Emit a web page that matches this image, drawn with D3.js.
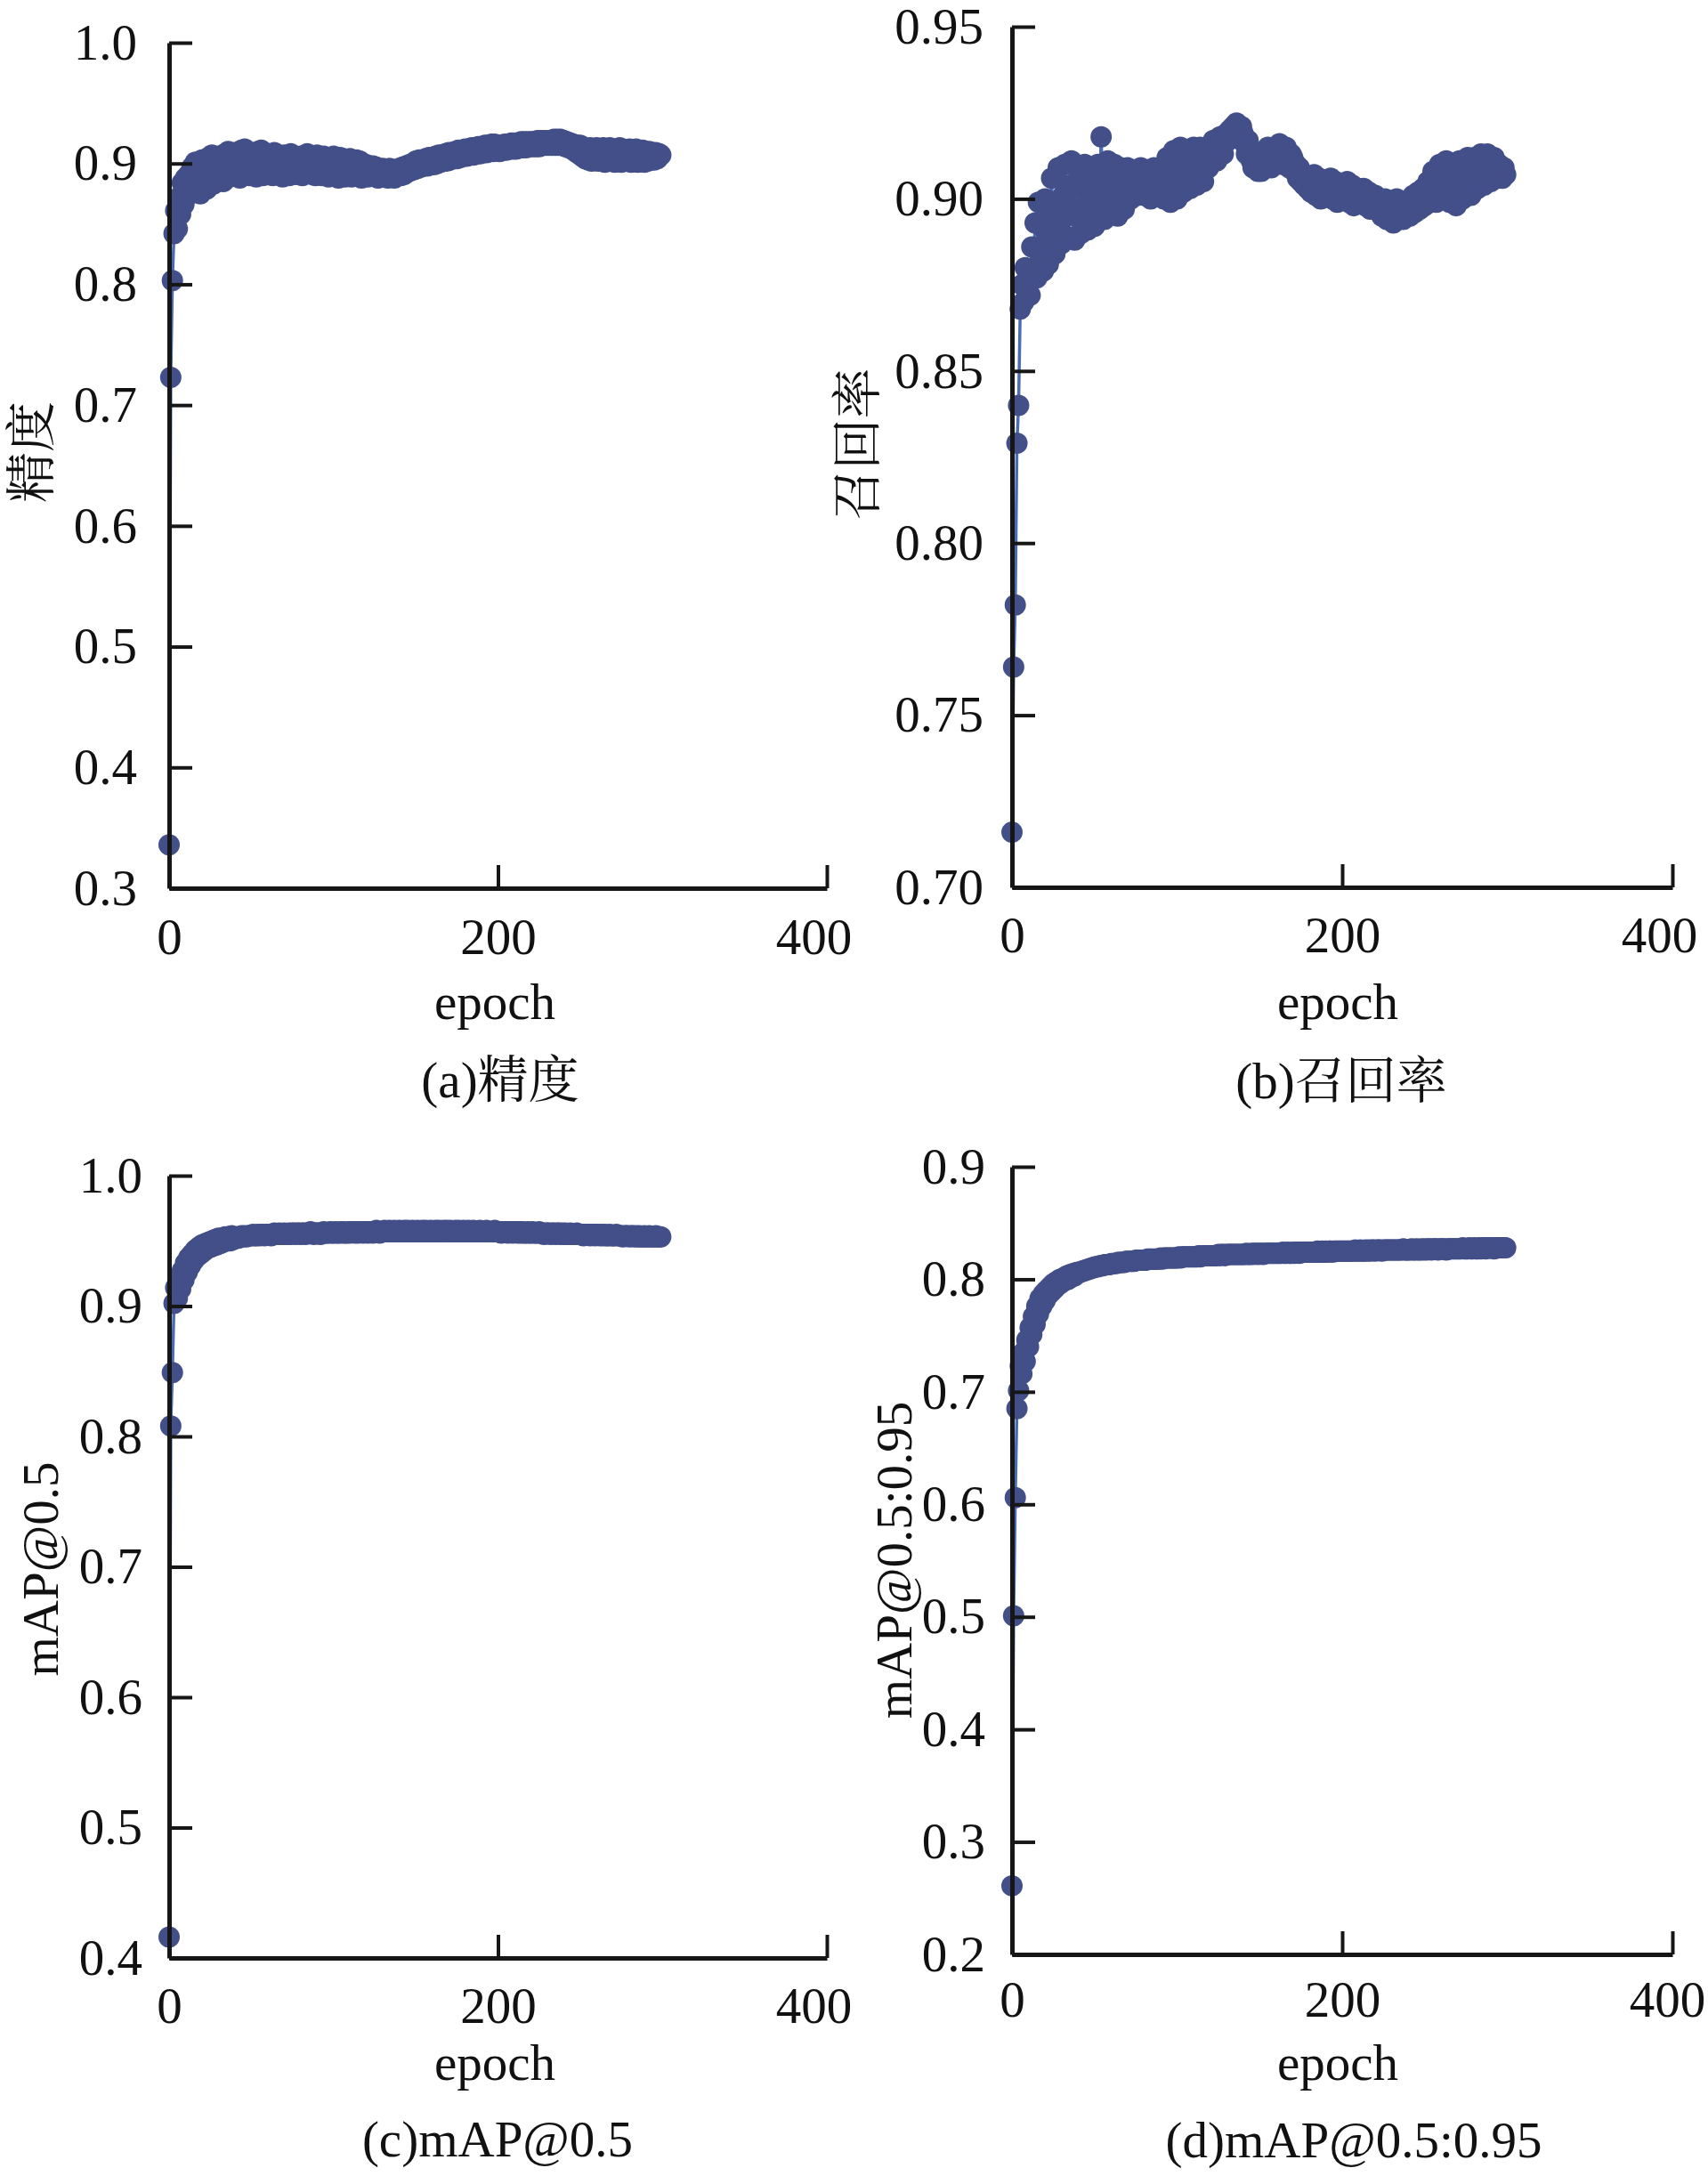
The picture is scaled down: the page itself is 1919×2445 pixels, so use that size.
<!DOCTYPE html>
<html><head><meta charset="utf-8">
<script src="https://cdn.jsdelivr.net/npm/d3@7"></script>
<style>html,body{margin:0;padding:0;background:#fff}</style>
</head><body>
<svg id="chart" width="1919" height="2445"></svg>
<script>
// ---------- data (one value per epoch 0..299) ----------
const precision = [
0.336,0.723,0.803,0.842,0.861,0.846,0.872,0.858,0.884,0.866,
0.888,0.873,0.891,0.876,0.897,0.879,0.901,0.882,0.894,0.875,
0.903,0.884,0.898,0.879,0.905,0.887,0.907,0.883,0.899,0.889,
0.906,0.888,0.902,0.885,0.908,0.892,0.910,0.889,0.903,0.891,
0.909,0.890,0.905,0.888,0.911,0.894,0.912,0.891,0.904,0.890,
0.909,0.892,0.906,0.889,0.910,0.895,0.911,0.890,0.903,0.893,
0.908,0.891,0.904,0.890,0.909,0.894,0.907,0.892,0.902,0.889,
0.907,0.892,0.903,0.890,0.908,0.895,0.906,0.891,0.901,0.893,
0.906,0.890,0.904,0.892,0.908,0.894,0.905,0.891,0.902,0.890,
0.907,0.893,0.903,0.890,0.906,0.892,0.905,0.889,0.901,0.891,
0.906,0.890,0.903,0.888,0.905,0.891,0.904,0.889,0.900,0.892,
0.904,0.889,0.901,0.890,0.903,0.891,0.902,0.888,0.899,0.890,
0.899,0.889,0.897,0.891,0.898,0.890,0.897,0.888,0.895,0.890,
0.896,0.889,0.895,0.888,0.896,0.889,0.895,0.888,0.894,0.890,
0.896,0.890,0.897,0.891,0.898,0.893,0.899,0.894,0.900,0.895,
0.902,0.896,0.903,0.897,0.903,0.898,0.904,0.898,0.905,0.899,
0.905,0.899,0.906,0.900,0.907,0.901,0.907,0.902,0.908,0.902,
0.909,0.903,0.909,0.904,0.910,0.904,0.911,0.905,0.911,0.906,
0.912,0.906,0.912,0.907,0.913,0.907,0.913,0.908,0.914,0.908,
0.914,0.909,0.915,0.909,0.915,0.910,0.916,0.910,0.916,0.911,
0.915,0.910,0.915,0.911,0.916,0.911,0.916,0.912,0.917,0.912,
0.917,0.912,0.917,0.913,0.918,0.913,0.918,0.913,0.918,0.914,
0.918,0.914,0.918,0.914,0.919,0.914,0.919,0.915,0.919,0.915,
0.919,0.915,0.919,0.915,0.920,0.915,0.920,0.915,0.920,0.915,
0.919,0.914,0.918,0.913,0.917,0.912,0.916,0.910,0.915,0.908,
0.915,0.906,0.913,0.904,0.912,0.903,0.913,0.902,0.912,0.903,
0.913,0.902,0.912,0.903,0.913,0.901,0.912,0.902,0.913,0.903,
0.912,0.901,0.911,0.902,0.913,0.901,0.912,0.902,0.911,0.903,
0.912,0.901,0.911,0.902,0.912,0.901,0.910,0.902,0.911,0.901,
0.910,0.902,0.910,0.903,0.909,0.903,0.909,0.904,0.908,0.907
];
const recall = [
0.716,0.764,0.782,0.829,0.840,0.868,0.875,0.870,0.880,0.874,
0.878,0.872,0.886,0.880,0.893,0.877,0.899,0.885,0.892,0.879,
0.900,0.888,0.881,0.895,0.906,0.890,0.884,0.899,0.909,0.893,
0.887,0.901,0.910,0.895,0.889,0.904,0.911,0.897,0.888,0.903,
0.909,0.894,0.890,0.905,0.910,0.898,0.891,0.903,0.908,0.896,
0.892,0.904,0.910,0.899,0.918,0.903,0.894,0.906,0.911,0.899,
0.896,0.904,0.910,0.901,0.895,0.905,0.909,0.900,0.897,0.906,
0.909,0.903,0.900,0.905,0.908,0.902,0.901,0.906,0.909,0.904,
0.901,0.905,0.908,0.903,0.900,0.906,0.909,0.904,0.902,0.906,
0.909,0.904,0.900,0.907,0.912,0.905,0.899,0.908,0.914,0.906,
0.900,0.908,0.915,0.907,0.902,0.910,0.914,0.906,0.903,0.911,
0.915,0.909,0.904,0.911,0.915,0.908,0.905,0.912,0.914,0.909,
0.910,0.914,0.917,0.912,0.911,0.916,0.918,0.914,0.913,0.917,
0.919,0.917,0.920,0.918,0.921,0.919,0.922,0.920,0.918,0.921,
0.919,0.916,0.913,0.917,0.915,0.911,0.909,0.913,0.910,0.908,
0.911,0.908,0.913,0.910,0.912,0.915,0.911,0.909,0.914,0.912,
0.910,0.913,0.916,0.912,0.910,0.914,0.915,0.911,0.909,0.913,
0.912,0.908,0.910,0.906,0.909,0.905,0.907,0.904,0.906,0.903,
0.906,0.902,0.904,0.907,0.901,0.903,0.906,0.900,0.904,0.902,
0.905,0.901,0.903,0.906,0.900,0.902,0.905,0.899,0.903,0.901,
0.904,0.900,0.902,0.905,0.899,0.901,0.904,0.898,0.902,0.900,
0.903,0.899,0.901,0.903,0.898,0.900,0.902,0.897,0.900,0.899,
0.901,0.897,0.899,0.900,0.895,0.898,0.900,0.894,0.897,0.899,
0.896,0.893,0.898,0.900,0.894,0.897,0.899,0.894,0.896,0.899,
0.897,0.895,0.899,0.901,0.896,0.898,0.902,0.897,0.900,0.903,
0.898,0.901,0.905,0.900,0.903,0.908,0.902,0.899,0.906,0.910,
0.904,0.900,0.907,0.911,0.903,0.899,0.906,0.910,0.902,0.898,
0.905,0.911,0.907,0.900,0.904,0.910,0.912,0.903,0.901,0.908,
0.912,0.906,0.903,0.909,0.913,0.907,0.904,0.910,0.913,0.908,
0.905,0.909,0.912,0.907,0.906,0.910,0.908,0.906,0.909,0.907
];
const map50 = [
0.416,0.808,0.849,0.902,0.914,0.906,0.921,0.913,0.927,0.920,
0.933,0.926,0.937,0.931,0.940,0.935,0.943,0.938,0.945,0.940,
0.947,0.942,0.948,0.944,0.949,0.945,0.950,0.946,0.951,0.947,
0.952,0.948,0.952,0.949,0.953,0.950,0.953,0.950,0.954,0.951,
0.953,0.953,0.952,0.953,0.954,0.953,0.954,0.953,0.954,0.954,
0.954,0.955,0.954,0.954,0.955,0.954,0.955,0.955,0.954,0.955,
0.955,0.955,0.954,0.955,0.956,0.955,0.955,0.956,0.955,0.955,
0.956,0.955,0.955,0.956,0.955,0.956,0.956,0.955,0.956,0.956,
0.955,0.956,0.956,0.955,0.956,0.956,0.957,0.956,0.955,0.956,
0.956,0.956,0.955,0.956,0.957,0.956,0.956,0.956,0.957,0.956,
0.956,0.957,0.956,0.956,0.957,0.956,0.957,0.956,0.956,0.957,
0.956,0.957,0.957,0.956,0.957,0.956,0.957,0.957,0.956,0.957,
0.957,0.956,0.957,0.957,0.956,0.957,0.958,0.957,0.956,0.957,
0.957,0.958,0.957,0.957,0.958,0.957,0.957,0.958,0.957,0.957,
0.958,0.957,0.957,0.958,0.957,0.958,0.957,0.957,0.958,0.957,
0.957,0.958,0.957,0.957,0.958,0.957,0.958,0.957,0.957,0.958,
0.957,0.957,0.958,0.957,0.958,0.957,0.957,0.958,0.957,0.958,
0.957,0.958,0.957,0.957,0.958,0.957,0.958,0.957,0.957,0.958,
0.957,0.957,0.958,0.957,0.957,0.958,0.957,0.957,0.957,0.958,
0.957,0.957,0.957,0.958,0.957,0.957,0.957,0.957,0.958,0.957,
0.957,0.957,0.956,0.957,0.957,0.957,0.956,0.957,0.957,0.956,
0.957,0.957,0.956,0.957,0.956,0.957,0.956,0.956,0.957,0.956,
0.956,0.957,0.956,0.956,0.956,0.957,0.956,0.956,0.955,0.956,
0.956,0.956,0.955,0.956,0.956,0.955,0.956,0.956,0.955,0.956,
0.955,0.956,0.955,0.955,0.956,0.955,0.955,0.955,0.956,0.955,
0.955,0.955,0.954,0.955,0.955,0.955,0.954,0.955,0.955,0.954,
0.955,0.955,0.954,0.955,0.954,0.955,0.954,0.954,0.955,0.954,
0.954,0.954,0.955,0.954,0.954,0.954,0.953,0.954,0.954,0.954,
0.953,0.954,0.954,0.953,0.954,0.953,0.954,0.953,0.953,0.954,
0.953,0.953,0.954,0.953,0.953,0.953,0.954,0.953,0.953,0.953
];
const map5095 = [
0.261,0.501,0.606,0.685,0.701,0.723,0.716,0.735,0.727,0.746,
0.740,0.757,0.751,0.767,0.760,0.776,0.769,0.783,0.776,0.787,
0.781,0.790,0.786,0.793,0.789,0.796,0.792,0.798,0.795,0.800,
0.797,0.801,0.799,0.803,0.800,0.804,0.802,0.805,0.803,0.806,
0.806,0.806,0.807,0.807,0.808,0.808,0.809,0.809,0.810,0.810,
0.811,0.811,0.811,0.812,0.812,0.812,0.813,0.813,0.813,0.813,
0.814,0.814,0.814,0.814,0.815,0.815,0.815,0.815,0.815,0.816,
0.816,0.816,0.816,0.816,0.816,0.817,0.817,0.817,0.817,0.817,
0.817,0.817,0.818,0.818,0.818,0.818,0.818,0.818,0.818,0.818,
0.819,0.818,0.819,0.819,0.819,0.819,0.819,0.819,0.819,0.819,
0.819,0.820,0.819,0.820,0.820,0.820,0.820,0.820,0.820,0.820,
0.820,0.820,0.820,0.821,0.820,0.821,0.821,0.821,0.821,0.821,
0.821,0.821,0.821,0.821,0.821,0.822,0.821,0.822,0.822,0.821,
0.822,0.822,0.822,0.822,0.822,0.822,0.822,0.822,0.822,0.822,
0.822,0.822,0.823,0.822,0.822,0.823,0.822,0.823,0.823,0.822,
0.823,0.823,0.822,0.823,0.823,0.823,0.823,0.823,0.823,0.823,
0.823,0.823,0.823,0.823,0.824,0.823,0.823,0.824,0.823,0.823,
0.824,0.823,0.824,0.824,0.823,0.824,0.824,0.824,0.824,0.824,
0.824,0.824,0.824,0.824,0.824,0.825,0.824,0.824,0.825,0.824,
0.825,0.824,0.825,0.825,0.824,0.825,0.825,0.825,0.825,0.825,
0.825,0.825,0.825,0.825,0.825,0.825,0.825,0.825,0.826,0.825,
0.825,0.826,0.825,0.825,0.826,0.825,0.826,0.825,0.826,0.826,
0.825,0.826,0.826,0.826,0.825,0.826,0.826,0.826,0.826,0.826,
0.826,0.826,0.826,0.826,0.826,0.826,0.826,0.827,0.826,0.826,
0.826,0.826,0.827,0.826,0.826,0.827,0.826,0.826,0.827,0.826,
0.827,0.826,0.827,0.827,0.826,0.827,0.827,0.827,0.826,0.827,
0.827,0.827,0.827,0.826,0.827,0.827,0.827,0.827,0.827,0.827,
0.827,0.827,0.827,0.828,0.827,0.827,0.827,0.828,0.827,0.827,
0.828,0.827,0.827,0.828,0.827,0.828,0.828,0.827,0.828,0.828,
0.828,0.828,0.827,0.828,0.828,0.828,0.828,0.828,0.828,0.828
];

const xTicks = [0, 200, 400];
const yTicksA = [0.3, 0.4, 0.5, 0.6, 0.7, 0.8, 0.9, 1.0];
const yTicksB = [0.70, 0.75, 0.80, 0.85, 0.90, 0.95];
const yTicksC = [0.4, 0.5, 0.6, 0.7, 0.8, 0.9, 1.0];
const yTicksD = [0.2, 0.3, 0.4, 0.5, 0.6, 0.7, 0.8, 0.9];
const xLabel = "epoch";
const yLabels = ["精度", "召回率", "mAP@0.5", "mAP@0.5:0.95"];
const captions = ["(a)精度", "(b)召回率", "(c)mAP@0.5", "(d)mAP@0.5:0.95"];

// ---------- layout / style ----------
const FONT = "'Liberation Serif','Times New Roman','Noto Serif CJK SC','Noto Sans CJK SC',serif";
const FS = 57;
const AXIS = "#161616";
const MARK = "#434f88";
const LINE = "#4a6cb5";

const panels = [
  {data: precision, yDomain: [0.3, 1.0], yTicks: yTicksA, fmt: ".1f",
   x0: 190, x1: 929, yTop: 48, yBot: 998, yPad: 36, xPad: 34, lastDx: -15,
   yl: {x: 35, y: 508, cjk: true}, ex: 556, ey: 1145, cx: 562, cy: 1233},
  {data: recall, yDomain: [0.70, 0.95], yTicks: yTicksB, fmt: ".2f",
   x0: 1137, x1: 1879, yTop: 30, yBot: 997, yPad: 32, xPad: 33, lastDx: -15,
   yl: {x: 963, y: 499, cjk: true}, ex: 1503, ey: 1145, cx: 1507, cy: 1234},
  {data: map50, yDomain: [0.4, 1.0], yTicks: yTicksC, fmt: ".1f",
   x0: 190, x1: 929, yTop: 1321, yBot: 2200, yPad: 30, xPad: 33, lastDx: -15,
   yl: {x: 65, y: 1763, cjk: false}, ex: 556, ey: 2337, cx: 559, cy: 2423},
  {data: map5095, yDomain: [0.2, 0.9], yTicks: yTicksD, fmt: ".1f",
   x0: 1137, x1: 1879, yTop: 1311, yBot: 2196, yPad: 30, xPad: 30, lastDx: -6,
   yl: {x: 1024, y: 1753, cjk: false}, ex: 1503, ey: 2337, cx: 1521, cy: 2424}
];

const svg = d3.select("#chart");
svg.append("rect").attr("width", 1919).attr("height", 2445).attr("fill", "#fff");

panels.forEach((p, k) => {
  const x = d3.scaleLinear().domain([0, 400]).range([p.x0, p.x1]);
  const y = d3.scaleLinear().domain(p.yDomain).range([p.yBot, p.yTop]);
  const g = svg.append("g");

  // series line + markers
  const line = d3.line().x((d, i) => x(i)).y(d => y(d));
  g.append("path").datum(p.data).attr("d", line)
    .attr("fill", "none").attr("stroke", LINE).attr("stroke-width", 3.5)
    .attr("stroke-linejoin", "round");
  g.append("g").selectAll("circle").data(p.data).join("circle")
    .attr("cx", (d, i) => x(i)).attr("cy", d => y(d)).attr("r", 12)
    .attr("fill", MARK);

  // axes
  const ya = g.append("g").attr("transform", `translate(${p.x0},0)`)
    .call(d3.axisLeft(y).tickValues(p.yTicks).tickFormat(d3.format(p.fmt))
      .tickSizeInner(-26).tickSizeOuter(0).tickPadding(p.yPad));
  const xa = g.append("g").attr("transform", `translate(0,${p.yBot})`)
    .call(d3.axisBottom(x).tickValues(xTicks).tickFormat(d3.format("d"))
      .tickSizeInner(-26).tickSizeOuter(0).tickPadding(p.xPad));
  [ya, xa].forEach(a => {
    a.attr("font-family", FONT).attr("font-size", FS);
    a.select(".domain").attr("stroke", AXIS).attr("stroke-width", 5);
    a.selectAll(".tick line").attr("stroke", AXIS).attr("stroke-width", 4);
    a.selectAll(".tick text").attr("fill", "#111");
  });
  xa.selectAll(".tick text").filter(d => d === 400).attr("dx", p.lastDx);

  // labels
  g.append("text").attr("x", p.ex).attr("y", p.ey).attr("text-anchor", "middle")
    .attr("font-family", FONT).attr("font-size", FS).attr("fill", "#111").text(xLabel);
  g.append("text").attr("x", p.cx).attr("y", p.cy).attr("text-anchor", "middle")
    .attr("font-family", FONT).attr("font-size", FS).attr("fill", "#111").text(captions[k]);
  const yl = g.append("text")
    .attr("transform", `translate(${p.yl.x},${p.yl.y}) rotate(-90)`)
    .attr("text-anchor", "middle")
    .attr("font-family", FONT).attr("font-size", FS).attr("fill", "#111").text(yLabels[k]);
  if (p.yl.cjk) yl.attr("dominant-baseline", "central");
});
</script>
</body></html>
